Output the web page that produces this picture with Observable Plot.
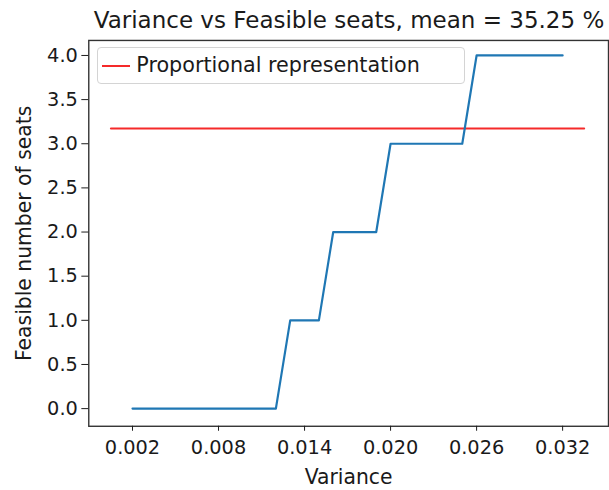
<!DOCTYPE html>
<html><head><meta charset="utf-8">
<script src="https://cdn.jsdelivr.net/npm/d3@7"></script>
<script src="https://cdn.jsdelivr.net/npm/@observablehq/plot@0.6"></script>
<style>
html,body{margin:0;padding:0;background:#fff;overflow:hidden;}
#wrap{position:relative;width:609px;height:490px;overflow:hidden;font-family:"DejaVu Sans",sans-serif;color:#1a1a1a;background:#fff;}
#title{margin-left:89px;width:520px;height:34px;line-height:41px;font-size:23px;text-align:center;white-space:nowrap;}
#chart svg{display:block;}
#legend{position:absolute;left:97px;top:47px;width:368px;height:37px;border:1px solid #d4d4d4;border-radius:4px;background:rgba(255,255,255,0.8);box-sizing:border-box;}
#legend .swatch{position:absolute;left:4px;top:16.9px;width:28px;height:2.2px;background:#f52a2a;}
#legend .lab{position:absolute;left:38.3px;top:4.9px;line-height:24px;font-size:20.7px;white-space:nowrap;}
</style></head>
<body><div id="wrap"><div id="title">Variance vs Feasible seats, mean = 35.25 %</div><div id="chart"></div><div id="legend"></div></div>
<script>
// Data
const variance = [0.002,0.003,0.004,0.005,0.006,0.007,0.008,0.009,0.010,0.011,0.012,
                  0.013,0.014,0.015,0.016,0.017,0.018,0.019,0.020,0.021,0.022,0.023,
                  0.024,0.025,0.026,0.027,0.028,0.029,0.030,0.031,0.032];
const seats = [0,0,0,0,0,0,0,0,0,0,0,
               1,1,1,2,2,2,2,3,3,3,3,
               3,3,4,4,4,4,4,4,4];
const prVariance = [0.0005, 0.0335];
const prSeats = [3.1725, 3.1725];
const xTicks = [0.002, 0.008, 0.014, 0.020, 0.026, 0.032];
const yTicks = [0, 0.5, 1, 1.5, 2, 2.5, 3, 3.5, 4];
const seriesLabel = "Proportional representation";

const data = variance.map((v, i) => ({variance: v, seats: seats[i]}));
const pr = prVariance.map((v, i) => ({variance: v, seats: prSeats[i]}));

const chart = Plot.plot({
  width: 614, height: 456,
  marginLeft: 89, marginRight: 1, marginTop: 6, marginBottom: 61,
  style: {fontFamily: '"DejaVu Sans", sans-serif', fontSize: "19.5px", color: "#1a1a1a", background: "transparent", overflow: "visible"},
  x: {domain: [-0.00105, 0.0352]},
  y: {domain: [-0.2, 4.17]},
  marks: [
    Plot.line(pr, {x: "variance", y: "seats", stroke: "#f52a2a", strokeWidth: 2.2}),
    Plot.line(data, {x: "variance", y: "seats", stroke: "#1f77b4", strokeWidth: 2.2}),
    Plot.frame({stroke: "#333", strokeWidth: 1.4}),
    Plot.axisX({ticks: xTicks, tickFormat: d3.format(".3f"), tickSize: 5, tickPadding: 9, label: null}),
    Plot.axisY({ticks: yTicks, tickFormat: d3.format(".1f"), tickSize: 7, tickPadding: 4, label: null}),
    Plot.text(["Variance"], {frameAnchor: "bottom", dy: 51.4, lineAnchor: "middle", textAnchor: "middle", fontSize: 20.5}),
    Plot.text(["Feasible number of seats"], {frameAnchor: "left", rotate: -90, dx: -64.5, lineAnchor: "middle", textAnchor: "middle", fontSize: 20.5})
  ]
});
document.getElementById("chart").appendChild(chart);

const legend = document.getElementById("legend");
const sw = document.createElement("div"); sw.className = "swatch"; legend.appendChild(sw);
const lab = document.createElement("div"); lab.className = "lab"; lab.textContent = seriesLabel; legend.appendChild(lab);
</script>
</body></html>
